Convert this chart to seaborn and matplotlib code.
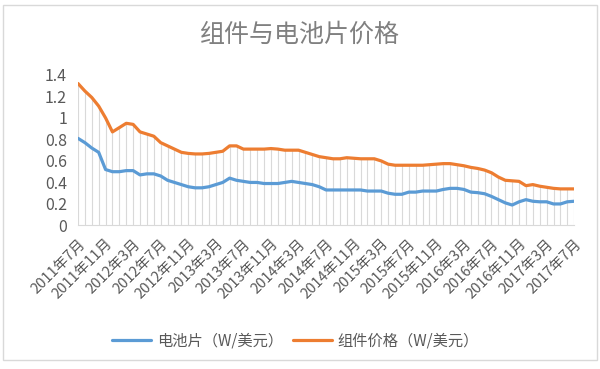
import pandas as pd
import matplotlib.pyplot as plt
import seaborn as sns
import numpy as np

sns.set_style('white')
plt.rcParams['font.family'] = ['Noto Sans CJK SC', 'DejaVu Sans']

# Dados mensais de 2011年7月 a 2017年7月
meses = pd.date_range('2011-07-01', '2017-07-01', freq='MS')
rotulos = [f'{d.year}年{d.month}月' for d in meses]

bateria = [0.81, 0.77, 0.72, 0.68, 0.52, 0.50, 0.50, 0.51, 0.51, 0.47,
           0.48, 0.48, 0.46, 0.42, 0.40, 0.38, 0.36, 0.35, 0.35, 0.36,
           0.38, 0.40, 0.44, 0.42, 0.41, 0.40, 0.40, 0.39, 0.39, 0.39,
           0.40, 0.41, 0.40, 0.39, 0.38, 0.36, 0.33, 0.33, 0.33, 0.33,
           0.33, 0.33, 0.32, 0.32, 0.32, 0.30, 0.29, 0.29, 0.31, 0.31,
           0.32, 0.32, 0.32, 0.335, 0.345, 0.345, 0.335, 0.31, 0.305, 0.295,
           0.27, 0.24, 0.21, 0.19, 0.22, 0.24, 0.225, 0.22, 0.22, 0.20,
           0.20, 0.22, 0.225]
modulo = [1.32, 1.25, 1.19, 1.11, 1.00, 0.87, 0.91, 0.95, 0.94, 0.87,
          0.85, 0.83, 0.77, 0.74, 0.71, 0.68, 0.67, 0.665, 0.665, 0.67,
          0.68, 0.69, 0.74, 0.74, 0.71, 0.71, 0.71, 0.71, 0.715, 0.71,
          0.70, 0.70, 0.70, 0.68, 0.66, 0.64, 0.63, 0.62, 0.62, 0.63,
          0.625, 0.62, 0.62, 0.62, 0.60, 0.57, 0.56, 0.56, 0.56, 0.56,
          0.56, 0.565, 0.57, 0.575, 0.575, 0.565, 0.555, 0.54, 0.53, 0.515,
          0.49, 0.45, 0.42, 0.415, 0.41, 0.37, 0.38, 0.365, 0.355, 0.345,
          0.34, 0.34, 0.34]

nome_bat = '电池片（W/美元）'
nome_mod = '组件价格（W/美元）'

x = np.arange(len(meses))
df = pd.DataFrame({'x': np.concatenate([x, x]),
                   'valor': bateria + modulo,
                   'serie': [nome_bat] * len(x) + [nome_mod] * len(x)})

fig = plt.figure(figsize=(6, 3.69), dpi=100)
ax = fig.add_axes([0.13, 0.389, 0.827, 0.408])

# linhas verticais (drop lines) do eixo até a curva de cima
ax.vlines(x, 0, modulo, color='#d9d9d9', lw=0.8, zorder=1)

sns.lineplot(data=df, x='x', y='valor', hue='serie',
             palette={nome_bat: '#5b9bd5', nome_mod: '#ed7d31'},
             lw=2.3, ax=ax, zorder=3)

ax.set_xlim(0, len(x) - 1)
ax.set_ylim(0, 1.4)
ax.set_yticks(np.arange(0, 1.41, 0.2))
ax.set_yticklabels(['0', '0.2', '0.4', '0.6', '0.8', '1', '1.2', '1.4'])
ax.set_xticks(x[::4])
ax.set_xticklabels(rotulos[::4], rotation=45, ha='right', rotation_mode='anchor')
ax.tick_params(axis='x', colors='#d9d9d9', length=5, width=0.8, labelcolor='#595959',
               labelsize=10.5, pad=3)
ax.tick_params(axis='y', length=0, labelcolor='#595959', labelsize=11.5, pad=8)
ax.set_xlabel('')
ax.set_ylabel('')
for lado in ['top', 'right', 'left']:
    ax.spines[lado].set_visible(False)
ax.spines['bottom'].set_color('#d9d9d9')

fig.text(0.5, 0.907, '组件与电池片价格', ha='center', va='center',
         fontsize=18, color='#808080')

ax.legend(loc='center left', bbox_to_anchor=(0.177, 0.076),
          bbox_transform=fig.transFigure, ncol=2, frameon=False, borderaxespad=0,
          fontsize=11, labelcolor='#595959', handlelength=2.5, handletextpad=0.4,
          columnspacing=0.7)

# moldura do gráfico
fig.patches.append(plt.Rectangle((0.005, 0.024), 0.99, 0.962, transform=fig.transFigure,
                                 fill=False, edgecolor='#d9d9d9', lw=1))

plt.savefig('out.png', dpi=100)
